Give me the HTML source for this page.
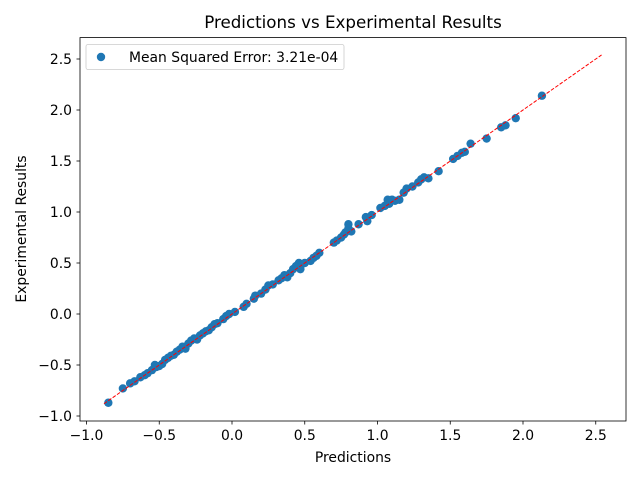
<!DOCTYPE html>
<html><head><meta charset="utf-8"><style>
body{margin:0;background:#fff;}
svg{display:block;font-family:"DejaVu Sans","Liberation Sans",sans-serif;}
</style></head><body>
<svg id="chart" width="640" height="480" viewBox="0 0 640 480" xmlns="http://www.w3.org/2000/svg">
<rect width="640" height="480" fill="#fff"/>
<text x="353" y="28" font-size="16.7" text-anchor="middle" fill="#000">Predictions vs Experimental Results</text>
<g id="xticks"></g>
<g id="yticks"></g>
<line id="ref" stroke="#ff0000" stroke-width="1" stroke-dasharray="3.7,1.6"/>
<g id="points"></g>
<rect x="80" y="37.6" width="546" height="383.4" fill="none" stroke="#000" stroke-width="0.8"/>
<text x="353" y="462" font-size="13.9" text-anchor="middle">Predictions</text>
<text transform="translate(26,229) rotate(-90)" font-size="13.9" text-anchor="middle">Experimental Results</text>
<g>
<rect x="86" y="44.5" width="258" height="25" rx="2" fill="#fff" fill-opacity="0.8" stroke="#ccc" stroke-width="0.8"/>
<circle cx="101" cy="57" r="4.2" fill="#1f77b4"/>
<text x="129" y="62" font-size="13.9">Mean Squared Error: 3.21e-04</text>
</g>
</svg>
<script>
const xTickVals=[-1.0,-0.5,0.0,0.5,1.0,1.5,2.0,2.5];
const yTickVals=[-1.0,-0.5,0.0,0.5,1.0,1.5,2.0,2.5];
const predX=[-0.85,-0.75,-0.70,-0.67,-0.63,-0.60,-0.58,-0.55,-0.53,-0.52,-0.50,-0.48,-0.46,-0.44,-0.42,-0.40,-0.38,-0.36,-0.34,-0.32,-0.30,-0.28,-0.26,-0.24,-0.22,-0.20,-0.18,-0.16,-0.14,-0.12,-0.10,-0.06,-0.04,-0.02,0.02,0.08,0.10,0.15,0.16,0.20,0.23,0.25,0.28,0.32,0.34,0.36,0.38,0.40,0.42,0.44,0.46,0.48,0.47,0.50,0.54,0.56,0.58,0.60,0.70,0.72,0.75,0.77,0.78,0.80,0.80,0.82,0.87,0.92,0.93,0.96,1.02,1.05,1.07,1.08,1.10,1.12,1.15,1.18,1.20,1.24,1.28,1.30,1.32,1.35,1.42,1.52,1.55,1.58,1.60,1.64,1.75,1.85,1.88,1.95,2.13];
const expY=[-0.87,-0.73,-0.68,-0.66,-0.62,-0.60,-0.58,-0.55,-0.50,-0.52,-0.51,-0.49,-0.45,-0.43,-0.41,-0.40,-0.37,-0.35,-0.32,-0.34,-0.29,-0.26,-0.24,-0.25,-0.21,-0.19,-0.17,-0.16,-0.13,-0.10,-0.09,-0.05,-0.02,0.0,0.02,0.07,0.10,0.15,0.18,0.20,0.24,0.28,0.29,0.33,0.35,0.38,0.36,0.40,0.44,0.47,0.50,0.49,0.44,0.50,0.52,0.55,0.57,0.60,0.70,0.72,0.75,0.78,0.80,0.88,0.84,0.81,0.88,0.95,0.91,0.97,1.04,1.06,1.12,1.08,1.12,1.11,1.12,1.19,1.23,1.25,1.29,1.32,1.34,1.33,1.40,1.52,1.55,1.58,1.59,1.67,1.72,1.83,1.85,1.92,2.14];
const lineRange=[-0.88,2.54];
const NS="http://www.w3.org/2000/svg";
const xs=v=>232+v*145.5, ys=v=>314-v*102;
const svg=document.getElementById('chart');
const xg=document.getElementById('xticks'), yg=document.getElementById('yticks');
function mk(t,a,p){const e=document.createElementNS(NS,t);for(const k in a)e.setAttribute(k,a[k]);p.appendChild(e);return e;}
xTickVals.forEach(v=>{
  const l=mk('line',{x1:xs(v),x2:xs(v),y1:421,y2:424.5,stroke:'#000','stroke-width':0.8},xg);
  
  
  const t=mk('text',{x:xs(v),y:440,'font-size':13.9,'text-anchor':'middle'},xg);
  
  
  t.textContent=v.toFixed(1).replace('-','\u2212');
});
yTickVals.forEach(v=>{
  const l=mk('line',{x1:76.5,x2:80,y1:ys(v),y2:ys(v),stroke:'#000','stroke-width':0.8},yg);
  
  
  const t=mk('text',{x:72,y:ys(v)+5,'font-size':13.9,'text-anchor':'end'},yg);
  
  
  t.textContent=v.toFixed(1).replace('-','\u2212');
});
const ref=document.getElementById('ref');
ref.setAttribute('x1',xs(lineRange[0]));ref.setAttribute('y1',ys(lineRange[0]));
ref.setAttribute('x2',xs(lineRange[1]));ref.setAttribute('y2',ys(lineRange[1]));
const pg=document.getElementById('points');
predX.forEach((x,i)=>{
  const c=mk('circle',{cx:xs(x),cy:ys(expY[i]),r:4.2,fill:'#1f77b4'},pg);
  
  
});
svg.appendChild(ref);
</script>
</body></html>
